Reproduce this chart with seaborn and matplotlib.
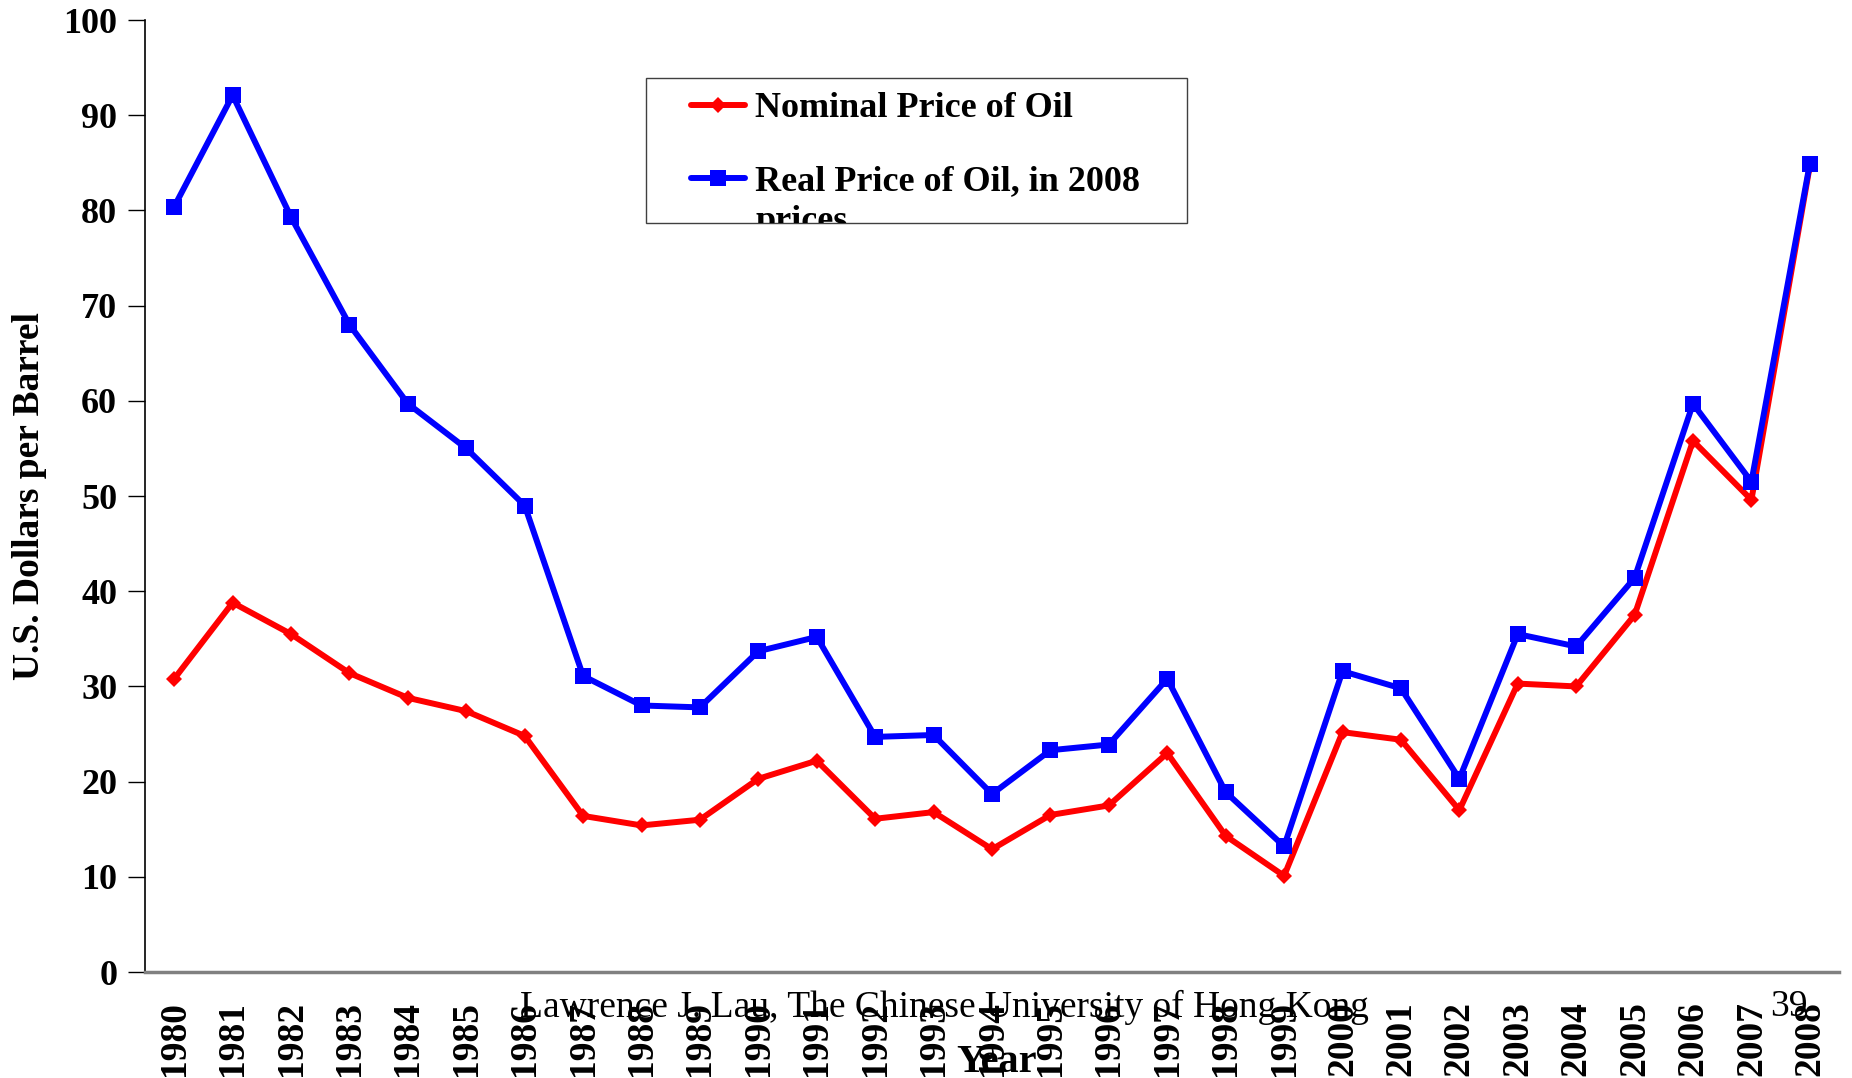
import pandas as pd
import numpy as np
import matplotlib
matplotlib.use('Agg')
import matplotlib.pyplot as plt
import seaborn as sns
from matplotlib.patches import Rectangle

# data
years = list(range(1980, 2009))
nominal = [30.8, 38.8, 35.5, 31.4, 28.8, 27.4, 24.8, 16.4, 15.4, 16.0,
           20.3, 22.2, 16.1, 16.8, 12.9, 16.5, 17.5, 23.0, 14.3, 10.1,
           25.2, 24.4, 17.0, 30.3, 30.0, 37.5, 55.8, 49.6, 84.7]
real = [80.4, 92.1, 79.3, 68.0, 59.7, 55.0, 49.0, 31.1, 28.0, 27.8,
        33.7, 35.2, 24.7, 24.9, 18.7, 23.3, 23.9, 30.8, 18.9, 13.2,
        31.6, 29.8, 20.3, 35.5, 34.2, 41.4, 59.7, 51.5, 84.9]
series_names = ["Nominal Price of Oil", "Real Price of Oil, in 2008\nprices"]

df = pd.DataFrame({
    'Year': years * 2,
    'Price': nominal + real,
    'Series': [series_names[0]] * len(years) + [series_names[1]] * len(years),
})

sns.set_style('white')
plt.rcParams['font.family'] = ['Liberation Serif', 'DejaVu Serif']
plt.rcParams['text.color'] = 'black'
plt.rcParams['axes.labelcolor'] = 'black'
plt.rcParams['xtick.color'] = 'black'
plt.rcParams['ytick.color'] = 'black'

fig = plt.figure(figsize=(18.52, 10.78), dpi=100)
ax = fig.add_axes([0.0783, 0.0983, 0.993 - 0.0783, 0.9814 - 0.0983])

sns.lineplot(data=df, x='Year', y='Price', hue='Series', style='Series',
             palette={series_names[0]: '#ff0000', series_names[1]: '#0000ff'},
             markers={series_names[0]: 'D', series_names[1]: 's'},
             dashes=False, linewidth=4.3, markeredgewidth=0,
             ax=ax, legend=True)
marker_sizes = [8, 11]
for ln, ms in zip(ax.get_lines(), marker_sizes):
    ln.set_markersize(ms)

ax.set_xlim(years[0] - 0.5, years[-1] + 0.5)
ax.set_ylim(0, 100)
ax.set_yticks(range(0, 101, 10))
ax.set_yticklabels([str(v) for v in range(0, 101, 10)], fontsize=26, fontweight='bold')
ax.set_xticks(years)
ax.set_xticklabels([str(y) for y in years], rotation=90, fontsize=27, fontweight='bold')
ax.set_xticks([y - 0.5 for y in years] + [years[-1] + 0.5], minor=True)
ax.tick_params(axis='x', which='major', length=0, pad=21)
ax.tick_params(axis='x', which='minor', length=12, width=1, color='#808080', direction='out')
ax.tick_params(axis='y', length=12, width=1, color='black', direction='out', left=True, pad=8)
for s in ['top', 'right']:
    ax.spines[s].set_visible(False)
ax.spines['left'].set_color('black')
ax.spines['left'].set_linewidth(1.2)
ax.spines['bottom'].set_color('#808080')
ax.spines['bottom'].set_linewidth(2.5)

ax.set_ylabel('U.S. Dollars per Barrel', fontsize=27, fontweight='bold', labelpad=12)
ax.set_xlabel('')
fig.text(0.538, 1 - 1062 / 1078, 'Year', fontsize=29, fontweight='bold', ha='center', va='center')

# legend with a fixed frame; the wrapped second line overflows and gets clipped
frame = Rectangle((646 / 1852, 1 - 223 / 1078), (1187 - 646) / 1852, (223 - 78) / 1078,
                  transform=fig.transFigure, facecolor='white', edgecolor='#404040',
                  linewidth=1.0, zorder=5, clip_on=False)
ax.add_patch(frame)
handles, labels = ax.get_legend_handles_labels()
for h, ms in zip(handles, marker_sizes):
    h.set_markersize(ms)
first_lines = [lab.split('\n')[0] for lab in labels]
leg = ax.legend(handles, first_lines, loc='upper left',
                bbox_to_anchor=(673 / 1852, 1 - 74 / 1078),
                bbox_transform=fig.transFigure, frameon=False,
                prop={'family': 'Liberation Serif', 'weight': 'bold', 'size': 26},
                handlelength=1.5, handletextpad=0.26, labelspacing=1.1, borderpad=0)
leg.set_zorder(6)
overflow = fig.text(756 / 1852, 1 - 221 / 1078, labels[1].split('\n')[1],
                    fontsize=26, fontweight='bold', ha='left', va='center')
overflow.set_clip_path(frame)

fig.text(944 / 1852, 1 - 1007 / 1078, 'Lawrence J. Lau, The Chinese University of Hong Kong',
         fontsize=27, ha='center', va='center')
fig.text(1789 / 1852, 1 - 1007 / 1078, '39', fontsize=27, ha='center', va='center')

fig.savefig('out.png', dpi=100)
